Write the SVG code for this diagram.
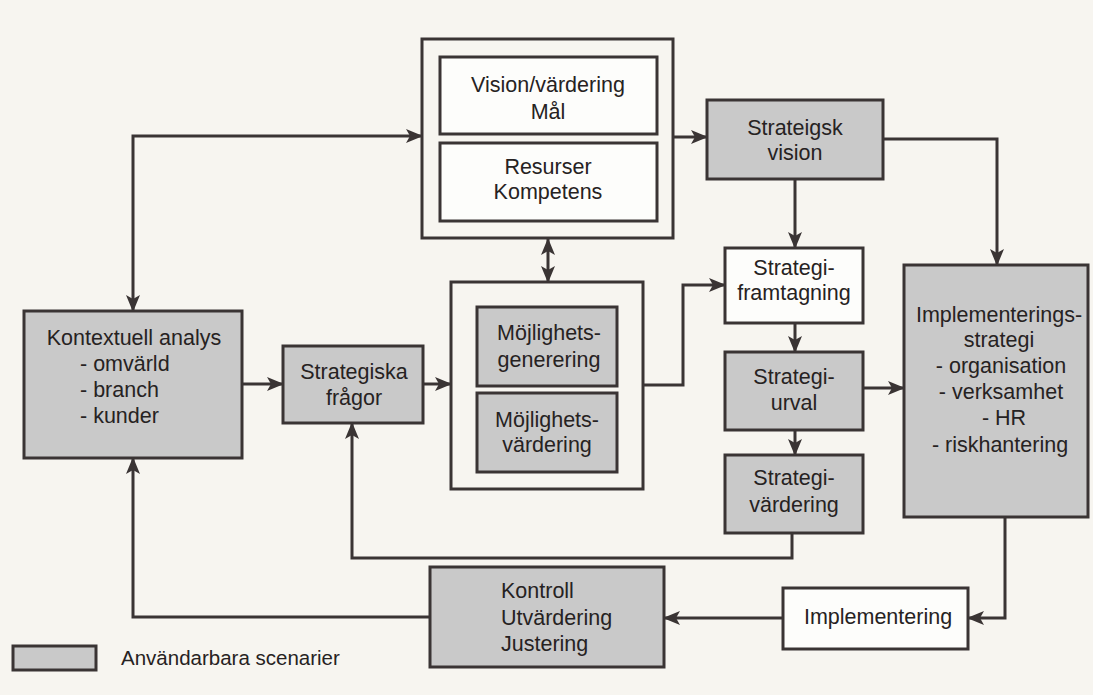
<svg xmlns="http://www.w3.org/2000/svg" width="1093" height="695" viewBox="0 0 1093 695">
<style>
text{font-family:"Liberation Sans",Arial,sans-serif;font-size:21.5px;fill:#262222}
.c{text-anchor:middle}
.box{stroke:#3a3434;stroke-width:3}
.g{fill:#c9c9c9}
.w{fill:#fdfdfb}
.n{fill:none}
.ln{fill:none;stroke:#3a3434;stroke-width:3}
</style>
<defs>
<marker id="ah" markerUnits="userSpaceOnUse" markerWidth="18" markerHeight="14" refX="16" refY="7" orient="auto-start-reverse">
<path d="M0,0 L17,7 L0,14 L4,7 Z" fill="#3a3434"/>
</marker>
</defs>
<rect width="1093" height="695" fill="#f7f5f0"/>

<g id="connectors">
<path class="ln" d="M133,311 V136 H422" marker-start="url(#ah)" marker-end="url(#ah)"/>
<path class="ln" d="M673,137 H707" marker-end="url(#ah)"/>
<path class="ln" d="M548,239 V282" marker-start="url(#ah)" marker-end="url(#ah)"/>
<path class="ln" d="M883,139 H997 V265" marker-end="url(#ah)"/>
<path class="ln" d="M795,179 V248" marker-end="url(#ah)"/>
<path class="ln" d="M643,385 H683 V285 H725" marker-end="url(#ah)"/>
<path class="ln" d="M795,323 V352" marker-end="url(#ah)"/>
<path class="ln" d="M795,430 V455" marker-end="url(#ah)"/>
<path class="ln" d="M863,388 H904" marker-end="url(#ah)"/>
<path class="ln" d="M242,384 H283" marker-end="url(#ah)"/>
<path class="ln" d="M423,384 H451" marker-end="url(#ah)"/>
<path class="ln" d="M792,533 V558 H352 V423" marker-end="url(#ah)"/>
<path class="ln" d="M1005,516 V618 H968" marker-end="url(#ah)"/>
<path class="ln" d="M783,618 H664" marker-end="url(#ah)"/>
<path class="ln" d="M430,617 H133 V458" marker-end="url(#ah)"/>
</g>

<g id="top-container">
<rect class="box n" x="422" y="39" width="251" height="199"/>
</g>
<g id="vision-vardering">
<rect class="box w" x="440" y="57" width="217" height="77"/>
<text class="c" x="548" y="92">Vision/värdering</text>
<text class="c" x="548" y="119">Mål</text>
</g>
<g id="resurser">
<rect class="box w" x="440" y="143" width="217" height="78"/>
<text class="c" x="548" y="174">Resurser</text>
<text class="c" x="548" y="199">Kompetens</text>
</g>
<g id="strategisk-vision">
<rect class="box g" x="707" y="100" width="176" height="79"/>
<text class="c" x="795" y="135">Strateigsk</text>
<text class="c" x="795" y="160">vision</text>
</g>
<g id="strategi-framtagning">
<rect class="box w" x="725" y="248" width="138" height="75"/>
<text class="c" x="794" y="275">Strategi-</text>
<text class="c" x="794" y="300">framtagning</text>
</g>
<g id="strategi-urval">
<rect class="box g" x="725" y="352" width="138" height="78"/>
<text class="c" x="794" y="384">Strategi-</text>
<text class="c" x="794" y="410">urval</text>
</g>
<g id="strategi-vardering">
<rect class="box g" x="725" y="455" width="138" height="78"/>
<text class="c" x="794" y="485">Strategi-</text>
<text class="c" x="794" y="512">värdering</text>
</g>
<g id="implementeringsstrategi">
<rect class="box g" x="904" y="265" width="184" height="252"/>
<text class="c" x="999" y="322">Implementerings-</text>
<text class="c" x="999" y="347">strategi</text>
<text class="c" x="1001" y="373">- organisation</text>
<text class="c" x="1001" y="399">- verksamhet</text>
<text class="c" x="1004" y="425">- HR</text>
<text class="c" x="1000" y="452">- riskhantering</text>
</g>
<g id="kontextuell-analys">
<rect class="box g" x="24" y="311" width="218" height="147"/>
<text class="c" x="134" y="345">Kontextuell analys</text>
<text x="80" y="371">- omvärld</text>
<text x="80" y="397">- branch</text>
<text x="80" y="423">- kunder</text>
</g>
<g id="strategiska-fragor">
<rect class="box g" x="283" y="346" width="140" height="77"/>
<text class="c" x="354" y="379">Strategiska</text>
<text class="c" x="354" y="405">frågor</text>
</g>
<g id="bottom-container">
<rect class="box n" x="451" y="282" width="192" height="207"/>
</g>
<g id="mojlighets-generering">
<rect class="box g" x="477" y="307" width="140" height="79"/>
<text class="c" x="549" y="340">Möjlighets-</text>
<text class="c" x="549" y="367">generering</text>
</g>
<g id="mojlighets-vardering">
<rect class="box g" x="477" y="393" width="140" height="79"/>
<text class="c" x="547" y="427">Möjlighets-</text>
<text class="c" x="547" y="452">värdering</text>
</g>
<g id="kontroll">
<rect class="box g" x="430" y="567" width="234" height="100"/>
<text x="501" y="598">Kontroll</text>
<text x="501" y="625">Utvärdering</text>
<text x="501" y="651">Justering</text>
</g>
<g id="implementering">
<rect class="box w" x="783" y="588" width="185" height="61"/>
<text class="c" x="878" y="624">Implementering</text>
</g>
<g id="legend">
<rect class="box g" x="13" y="646" width="83" height="24"/>
<text x="121" y="665" style="font-size:20.5px">Användarbara scenarier</text>
</g>
</svg>
